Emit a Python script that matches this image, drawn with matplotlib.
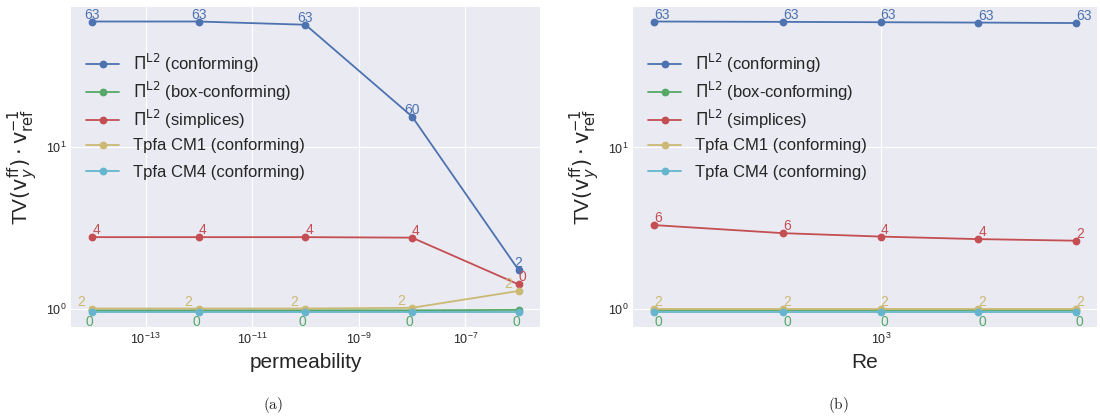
import matplotlib
matplotlib.use("Agg")
import matplotlib.pyplot as plt
from matplotlib.legend import Legend
from matplotlib.ticker import NullFormatter, FixedLocator

plt.style.use("seaborn-v0_8-darkgrid")
plt.rcParams["font.family"] = ["Liberation Sans", "DejaVu Sans"]
plt.rcParams["mathtext.fontset"] = "dejavusans"

# ---------------- data ----------------
permeability = [1e-14, 1e-12, 1e-10, 1e-8, 1e-6]
reynolds = [200, 500, 1000, 2000, 4000]

series_names = [r"$\Pi^{\mathrm{L2}}$ (conforming)",
                r"$\Pi^{\mathrm{L2}}$ (box-conforming)",
                r"$\Pi^{\mathrm{L2}}$ (simplices)",
                "Tpfa CM1 (conforming)",
                "Tpfa CM4 (conforming)"]
series_colors = ["#4C72B0", "#55A868", "#C44E52", "#CCB974", "#64B5CD"]

# panel (a): values vs permeability
perm_conf = [60.2, 60.2, 57.5, 15.5, 1.73]
perm_box = [0.975, 0.975, 0.975, 0.975, 0.98]
perm_simp = [2.77, 2.77, 2.77, 2.75, 1.41]
perm_cm1 = [1.0, 1.0, 1.0, 1.01, 1.285]
perm_cm4 = [0.945, 0.945, 0.945, 0.945, 0.945]

perm_lbl_conf = ["63", "63", "63", "60", "2"]
perm_lbl_box = ["0", "0", "0", "0", "0"]
perm_lbl_simp = ["4", "4", "4", "4", "0"]
perm_lbl_cm1 = ["2", "2", "2", "2", "2"]

# panel (b): values vs Re
re_conf = [60.2, 59.9, 59.6, 59.3, 58.9]
re_box = [0.985, 0.985, 0.985, 0.985, 0.985]
re_simp = [3.31, 2.95, 2.81, 2.71, 2.65]
re_cm1 = [1.0, 1.0, 1.0, 1.0, 1.0]
re_cm4 = [0.953, 0.953, 0.953, 0.953, 0.953]

re_lbl_conf = ["63", "63", "63", "63", "63"]
re_lbl_box = ["0", "0", "0", "0", "0"]
re_lbl_simp = ["6", "6", "4", "4", "2"]
re_lbl_cm1 = ["2", "2", "2", "2", "2"]

ylabel_text = r"TV$(\mathrm{v}_y^{\mathrm{ff}})\cdot\mathrm{v}_{\mathrm{ref}}^{-1}$"

# legend row centres (axes fraction)
legend_rows = [0.825, 0.7375, 0.65, 0.566, 0.484]

# ---------------- figure ----------------
fig = plt.figure(figsize=(11, 4.2), dpi=100)
axA = fig.add_axes([0.0645, 0.2214, 0.4264, 0.762])
axB = fig.add_axes([0.5755, 0.2214, 0.4218, 0.762])


def draw(ax, x, ys, labels, lbl_styles):
    lines = []
    for y, name, c in zip(ys, series_names, series_colors):
        ln, = ax.plot(x, y, "-o", color=c, label=name, lw=1.3, ms=4.6)
        lines.append(ln)
    for y, lbls, c, sty in zip(ys, labels, series_colors, lbl_styles):
        if lbls is None or sty is None:
            continue
        ha, va, dx, dy = sty
        for xi, yi, t in zip(x, y, lbls):
            ax.annotate(t, (xi, yi), xytext=(dx, dy), textcoords="offset points",
                        ha=ha, va=va, color=c, fontsize=10)
    ax.set_xscale("log")
    ax.set_yscale("log")
    ax.yaxis.set_minor_formatter(NullFormatter())
    ax.xaxis.set_minor_formatter(NullFormatter())
    ax.tick_params(labelsize=9)
    ax.set_ylabel(ylabel_text, fontsize=15)
    for ln, name, yrow in zip(lines, series_names, legend_rows):
        leg = Legend(ax, [ln], [name], loc="center left",
                     bbox_to_anchor=(0.0, yrow), fontsize=12, frameon=False)
        ax.add_artist(leg)


draw(axA, permeability,
     [perm_conf, perm_box, perm_simp, perm_cm1, perm_cm4],
     [perm_lbl_conf, perm_lbl_box, perm_lbl_simp, perm_lbl_cm1, None],
     [("center", "bottom", 0, 0), ("center", "top", -2, -3.5),
      ("left", "bottom", 0, 0), ("right", "bottom", -5, 0), None])
axA.xaxis.set_major_locator(FixedLocator([1e-13, 1e-11, 1e-9, 1e-7]))
axA.set_xlabel("permeability", fontsize=15)

draw(axB, reynolds,
     [re_conf, re_box, re_simp, re_cm1, re_cm4],
     [re_lbl_conf, re_lbl_box, re_lbl_simp, re_lbl_cm1, None],
     [("left", "bottom", 0, 0), ("left", "top", 0, -3.5),
      ("left", "bottom", 0, 0), ("left", "bottom", 0, 0), None])
axB.set_xlabel("Re", fontsize=15)

fig.text(0.248, 0.035, r"$\mathrm{(a)}$", fontsize=11, ha="center", va="center",
         math_fontfamily="cm")
fig.text(0.762, 0.035, r"$\mathrm{(b)}$", fontsize=11, ha="center", va="center",
         math_fontfamily="cm")

fig.savefig("out.png", dpi=100)
